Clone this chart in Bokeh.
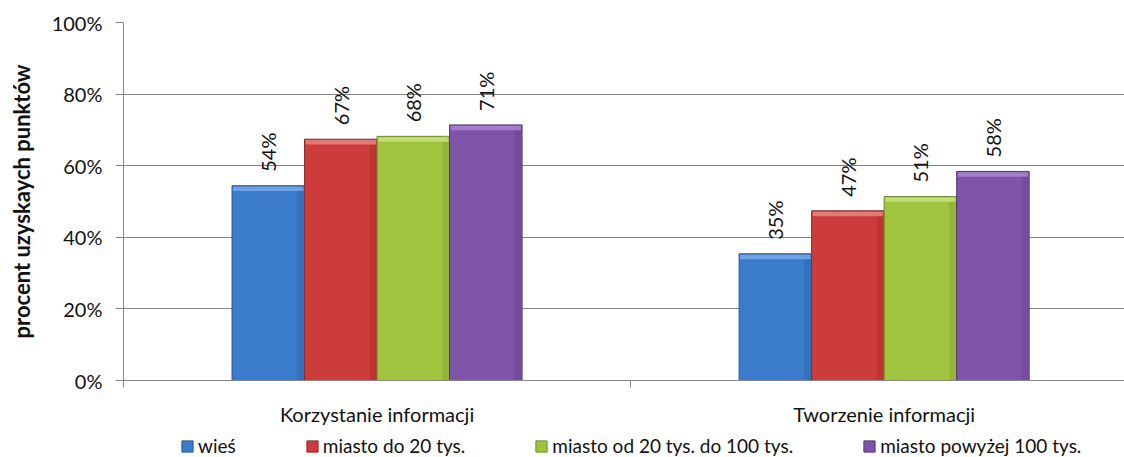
import math
from bokeh.plotting import figure
from bokeh.layouts import column
from bokeh.models import (ColumnDataSource, Range1d, FixedTicker, Legend, LegendItem,
                          NumeralTickFormatter)
from bokeh.core.properties import value
from bokeh.embed import file_html
from bokeh.resources import INLINE

categories = ["Korzystanie informacji", "Tworzenie informacji"]
series = ["wieś", "miasto do 20 tys.", "miasto od 20 tys. do 100 tys.", "miasto powyżej 100 tys."]
wies = [54.4, 35.4]
miasto_do_20 = [67.4, 47.4]
miasto_20_100 = [68.2, 51.4]
miasto_pow_100 = [71.4, 58.4]
labels = [["54%", "35%"], ["67%", "47%"], ["68%", "51%"], ["71%", "58%"]]
y_ticks = [0, 20, 40, 60, 80, 100]
values = [wies, miasto_do_20, miasto_20_100, miasto_pow_100]
colors = ["#3b7bcc", "#cc3c3a", "#a0c43e", "#7e54a8"]
edges = ["#2a5a99", "#8f2a28", "#6f8a2a", "#553874"]
highlights = ["#76aaeb", "#e98280", "#c8e47e", "#a985d2"]
shades = ["#3470bb", "#bb3432", "#92b338", "#724c9a"]

FONT = "Lato"
TXT = "#111111"
p = figure(width=1124, height=432, output_backend="svg", toolbar_location=None,
           x_range=Range1d(0, 1.974), y_range=Range1d(0, 100),
           min_border_left=123, min_border_right=0, min_border_top=22,
           min_border_bottom=52)
p.outline_line_color = None
p.background_fill_color = "white"

bw = 0.143
renderers = []
for i, (vals, col) in enumerate(zip(values, colors)):
    xs = [k + 0.5 + (i - 1.5) * bw for k in range(len(categories))]
    src = ColumnDataSource(dict(x=xs, top=vals, lab=labels[i],
                                xr=[x + bw * 0.445 for x in xs],
                                htop=[v - 0.25 for v in vals], hbot=[v - 1.5 for v in vals]))
    r = p.vbar(x="x", top="top", width=bw, bottom=0, source=src, fill_color=col,
               line_color=edges[i], line_width=1)
    # bevel: slightly darker right edge and lighter top edge
    p.vbar(x="xr", top="top", bottom=0, width=bw * 0.09, source=src,
           fill_color=shades[i], line_color=None, fill_alpha=0.9)
    p.vbar(x="x", top="htop", bottom="hbot", width=bw * 0.97, source=src,
           fill_color=highlights[i], line_color=None, fill_alpha=0.85)
    renderers.append(r)
    p.text(x="x", y="top", text="lab", source=src, angle=math.pi / 2, y_offset=-14,
           text_align="left", text_baseline="middle", text_font=value(FONT),
           text_font_size="20px", text_color=TXT)

# axes
p.yaxis.ticker = FixedTicker(ticks=y_ticks)
p.yaxis.formatter = NumeralTickFormatter(format="0")
p.yaxis.major_label_overrides = {v: f"{v}%" for v in y_ticks}
p.yaxis.axis_label = "procent uzyskaych punktów"
p.yaxis.axis_label_text_font = FONT
p.yaxis.axis_label_text_font_style = "bold"
p.yaxis.axis_label_text_font_size = "22px"
p.yaxis.axis_label_text_color = TXT
p.yaxis.axis_label_standoff = 14
p.yaxis.major_label_text_font = FONT
p.yaxis.major_label_text_font_size = "20px"
p.yaxis.major_label_text_color = TXT
p.yaxis.major_label_standoff = 13
p.yaxis.major_tick_out = 8
p.yaxis.major_tick_in = 0
p.yaxis.minor_tick_out = 0
p.yaxis.minor_tick_in = 0
p.yaxis.axis_line_color = "#868686"
p.yaxis.major_tick_line_color = "#868686"

p.xaxis.ticker = FixedTicker(ticks=[0.5, 1.5], minor_ticks=[0, 1, 2])
p.xaxis.major_label_overrides = {0.5: categories[0], 1.5: categories[1]}
p.xaxis.major_tick_out = 0
p.xaxis.major_tick_in = 0
p.xaxis.minor_tick_out = 7
p.xaxis.minor_tick_in = 0
p.xaxis.minor_tick_line_color = "#868686"
p.xaxis.axis_line_color = "#868686"
p.xaxis.major_label_text_font = FONT
p.xaxis.major_label_text_font_size = "20px"
p.xaxis.major_label_text_color = TXT
p.xaxis.major_label_standoff = 14

p.xgrid.grid_line_color = None
p.ygrid.ticker = FixedTicker(ticks=y_ticks[1:])
p.ygrid.grid_line_color = "#868686"
p.ygrid.grid_line_width = 1

# legend strip below the chart (its frame is aligned with the chart frame)
lg = figure(width=1124, height=25, output_backend="svg", toolbar_location=None,
            x_range=Range1d(0, 1), y_range=Range1d(0, 1),
            min_border_left=0, min_border_right=0, min_border_top=0, min_border_bottom=0)
lg.axis.visible = False
lg.grid.visible = False
lg.outline_line_color = None
lrs = []
for i, col in enumerate(colors):
    lrs.append(lg.vbar(x=[5], top=[0], width=0.1, fill_color=col, line_color=edges[i]))
legend = Legend(items=[LegendItem(label=s, renderers=[r]) for s, r in zip(series, lrs)],
                orientation="horizontal", location=(57, 0), spacing=69,
                glyph_width=14, glyph_height=14, label_standoff=4, padding=0, margin=0,
                border_line_color=None, background_fill_alpha=0,
                label_text_font=FONT, label_text_font_size="19px", label_text_color=TXT)
lg.add_layout(legend, "center")

open("out.html", "w").write(file_html(column(p, lg, spacing=0), INLINE))
